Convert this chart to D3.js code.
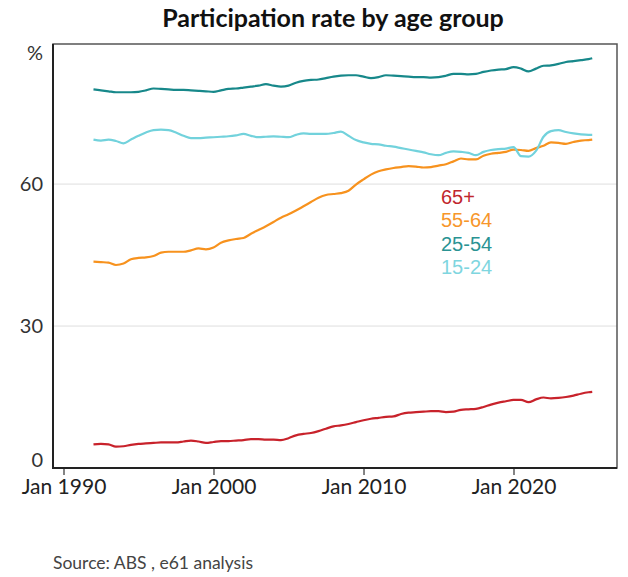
<!DOCTYPE html>
<html>
<head>
<meta charset="utf-8">
<script src="https://cdn.jsdelivr.net/npm/d3@7"></script>
<style>
  body { margin: 0; background: #fff; }
  svg { font-family: Lato, "Noto Sans", sans-serif; }
</style>
</head>
<body>
<script>
// semi-annual readings, last one April 2025
var months = [
  "1992-01","1992-07","1993-01","1993-07","1994-01","1994-07","1995-01","1995-07",
  "1996-01","1996-07","1997-01","1997-07","1998-01","1998-07","1999-01","1999-07",
  "2000-01","2000-07","2001-01","2001-07","2002-01","2002-07","2003-01","2003-07",
  "2004-01","2004-07","2005-01","2005-07","2006-01","2006-07","2007-01","2007-07",
  "2008-01","2008-07","2009-01","2009-07","2010-01","2010-07","2011-01","2011-07",
  "2012-01","2012-07","2013-01","2013-07","2014-01","2014-07","2015-01","2015-07",
  "2016-01","2016-07","2017-01","2017-07","2018-01","2018-07","2019-01","2019-07",
  "2020-01","2020-07","2021-01","2021-07","2022-01","2022-07","2023-01","2023-07",
  "2024-01","2024-07","2025-01","2025-04"
];

var age25to54 = [
  80.0, 79.8, 79.6, 79.4, 79.4, 79.4, 79.5, 79.8, 80.2, 80.1, 80.0, 79.9, 79.9, 79.8, 79.7, 79.6,
  79.5, 79.8, 80.1, 80.2, 80.4, 80.6, 80.8, 81.1, 80.8, 80.6, 80.8, 81.4, 81.8, 82.0, 82.1, 82.4,
  82.7, 82.9, 83.0, 83.0, 82.7, 82.4, 82.6, 83.0, 82.9, 82.8, 82.7, 82.6, 82.6, 82.5, 82.6, 82.9,
  83.3, 83.3, 83.2, 83.3, 83.7, 84.0, 84.2, 84.3, 84.7, 84.4, 83.8, 84.4, 85.0, 85.1, 85.4, 85.8,
  86.0, 86.2, 86.4, 86.6
];
var age15to24 = [
  69.4, 69.2, 69.4, 69.1, 68.6, 69.4, 70.2, 70.9, 71.4, 71.5, 71.4, 70.9, 70.2, 69.7, 69.7, 69.8,
  69.9, 70.0, 70.1, 70.3, 70.6, 70.2, 69.9, 70.0, 70.1, 70.0, 69.9, 70.4, 70.7, 70.6, 70.6, 70.6,
  70.8, 71.1, 70.2, 69.3, 68.8, 68.5, 68.4, 68.1, 67.9, 67.6, 67.3, 67.0, 66.7, 66.3, 66.1, 66.6,
  66.9, 66.8, 66.6, 66.1, 66.8, 67.2, 67.4, 67.5, 67.8, 65.9, 65.8, 67.0, 70.0, 71.2, 71.4, 71.0,
  70.7, 70.5, 70.4, 70.4
];
var age55to64 = [
  43.6, 43.5, 43.4, 42.9, 43.2, 44.1, 44.4, 44.5, 44.8, 45.5, 45.7, 45.7, 45.7, 46.0, 46.4, 46.2,
  46.6, 47.6, 48.1, 48.4, 48.6, 49.5, 50.3, 51.1, 52.0, 52.9, 53.6, 54.4, 55.3, 56.2, 57.1, 57.7,
  57.9, 58.1, 58.6, 59.9, 61.0, 62.0, 62.7, 63.1, 63.4, 63.6, 63.8, 63.7, 63.5, 63.6, 63.9, 64.2,
  64.8, 65.4, 65.2, 65.2, 66.0, 66.4, 66.6, 66.8, 67.3, 67.2, 67.0, 67.6, 68.1, 68.8, 68.7, 68.5,
  68.9, 69.2, 69.3, 69.4
];
var age65plus = [
  5.0, 5.1, 5.0, 4.5, 4.6, 4.9, 5.1, 5.2, 5.3, 5.4, 5.4, 5.4, 5.6, 5.8, 5.6, 5.3,
  5.5, 5.7, 5.7, 5.8, 5.9, 6.1, 6.1, 6.0, 6.0, 5.9, 6.3, 6.9, 7.2, 7.4, 7.8, 8.3,
  8.8, 9.0, 9.3, 9.7, 10.1, 10.4, 10.6, 10.8, 10.9, 11.4, 11.7, 11.8, 11.9, 12.0, 12.0, 11.8,
  11.9, 12.3, 12.4, 12.5, 12.9, 13.4, 13.8, 14.1, 14.4, 14.4, 13.9, 14.5, 14.9, 14.7, 14.8, 15.0,
  15.3, 15.7, 16.0, 16.1
];

var groups = ["65+", "55-64", "25-54", "15-24"];
var groupValues = [age65plus, age55to64, age25to54, age15to24];
var lineColors = ["#c8222b", "#f7921e", "#17888a", "#72d2dc"];
var legendColors = ["#c1272d", "#f7962a", "#2a9393", "#7fd6df"];

var yTicks = [0, 30, 60];
var xTicks = ["1990-01", "2000-01", "2010-01", "2020-01"];

(function () {
  var W = 628, H = 577;
  var pl = 53, pr = 617, pt = 44, pb = 468;

  var parse = d3.timeParse("%Y-%m");
  var dates = months.map(parse);

  var x = d3.scaleTime()
    .domain([parse("1990-01"), parse("2020-01")])
    .range([63.5, 513.5]);
  var y = d3.scaleLinear().domain([0, 89.6]).range([pb, pt]);

  var svg = d3.select("body").append("svg").attr("width", W).attr("height", H);

  svg.append("text")
    .attr("x", (pl + pr) / 2 - 2).attr("y", 27)
    .attr("text-anchor", "middle")
    .attr("font-size", 25).attr("font-weight", "bold").attr("fill", "#111")
    .text("Participation rate by age group");

  // grid
  svg.append("g").selectAll("line").data(yTicks.slice(1)).enter().append("line")
    .attr("x1", pl).attr("x2", pr)
    .attr("y1", function (d) { return y(d); })
    .attr("y2", function (d) { return y(d); })
    .attr("stroke", "#dedede").attr("stroke-width", 1);

  // y labels
  svg.append("g").selectAll("text").data(yTicks).enter().append("text")
    .attr("x", 43)
    .attr("y", function (d) { return d === 0 ? y(d) - 1 : y(d) + 7; })
    .attr("text-anchor", "end")
    .attr("font-size", 20).attr("fill", "#333")
    .text(function (d) { return d; });

  svg.append("text")
    .attr("x", 43).attr("y", 60)
    .attr("text-anchor", "end")
    .attr("font-size", 20).attr("fill", "#333")
    .text("%");

  // x axis
  var xAxis = d3.axisBottom(x)
    .tickValues(xTicks.map(parse))
    .tickSize(7).tickPadding(4)
    .tickFormat(d3.timeFormat("Jan %Y"));
  var gx = svg.append("g").attr("transform", "translate(0," + pb + ")").call(xAxis);
  gx.select(".domain").remove();
  gx.selectAll(".tick line").attr("stroke", "#333").attr("stroke-width", 1.2);
  gx.selectAll(".tick text")
    .attr("font-size", 21).attr("fill", "#222")
    .attr("font-family", "Lato, 'Noto Sans', sans-serif");

  // lines
  var line = d3.line()
    .x(function (d, i) { return x(dates[i]); })
    .y(function (d) { return y(d); })
    .curve(d3.curveMonotoneX);

  svg.append("g").selectAll("path").data(groupValues).enter().append("path")
    .attr("d", line)
    .attr("fill", "none")
    .attr("stroke", function (d, i) { return lineColors[i]; })
    .attr("stroke-width", 2.2)
    .attr("stroke-linejoin", "round");

  // box
  svg.append("rect")
    .attr("x", pl).attr("y", pt)
    .attr("width", pr - pl).attr("height", pb - pt)
    .attr("fill", "none").attr("stroke", "#555").attr("stroke-width", 1.5);
  svg.append("path")
    .attr("d", "M" + pl + "," + pt + "V" + pb + "H" + pr)
    .attr("fill", "none").attr("stroke", "#222").attr("stroke-width", 2);

  // legend
  svg.append("g").selectAll("text").data(groups).enter().append("text")
    .attr("x", 441)
    .attr("y", function (d, i) { return 204 + i * 23.4; })
    .style("font-family", "'Liberation Sans', Arial, sans-serif")
    .attr("font-size", 20)
    .attr("fill", function (d, i) { return legendColors[i]; })
    .text(function (d) { return d; });

  svg.append("text")
    .attr("x", 53).attr("y", 569)
    .attr("font-size", 17.5).attr("fill", "#444")
    .text("Source: ABS , e61 analysis");
})();
</script>
</body>
</html>
